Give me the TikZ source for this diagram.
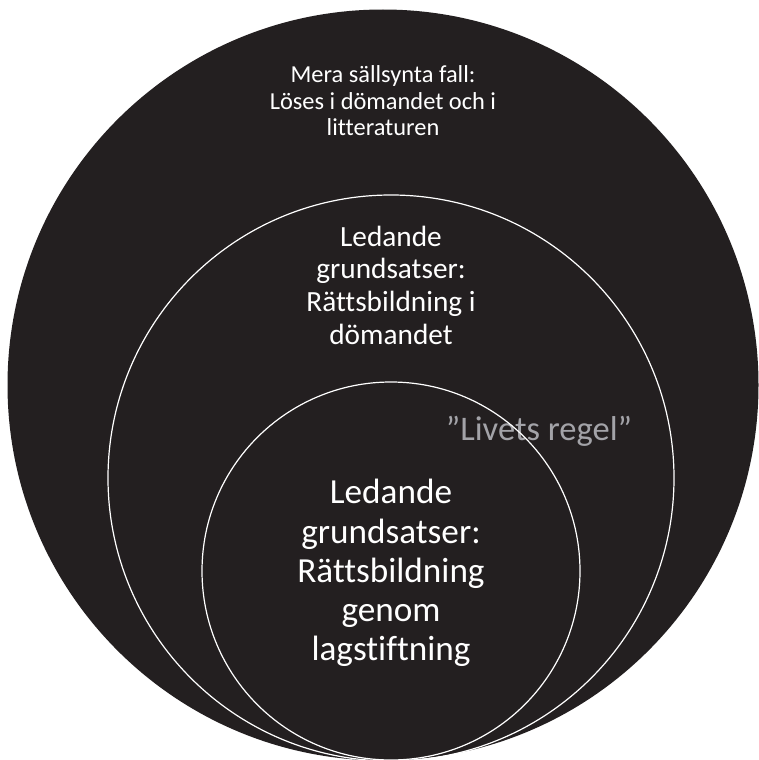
\documentclass[tikz,border=0pt]{standalone}
\usepackage{fontspec}
\setmainfont{Carlito}[Ligatures=NoCommon]
\definecolor{disc}{HTML}{231F20}
\definecolor{faint}{HTML}{A3A3A8}
\tikzset{
    ring/.style={draw=white, line width=1.2pt},
    lbl/.style={text=white, align=center, inner sep=0pt},
}
\begin{document}
\begin{tikzpicture}[x=1pt,y=-1pt]
    \useasboundingbox (0,0) rectangle (758,760);

    % circles
    \fill[disc] (383,385) circle (375.5);
    \draw[ring] (391,478) circle (283);

    % texts
    \node[lbl, font=\fontsize{24.4}{26.5}\selectfont] (rare) at (383,101)
        {Mera sällsynta fall:\\Löses i dömandet och i\\litteraturen};
    \node[lbl, font=\fontsize{29.3}{32.7}\selectfont] (court) at (391,285)
        {Ledande\\grundsatser:\\Rättsbildning i\\dömandet};
    \node[lbl, font=\fontsize{35.2}{39.2}\selectfont] (law) at (391,573)
        {Ledande\\grundsatser:\\Rättsbildning\\genom\\lagstiftning};
    \node[lbl, text=faint, font=\fontsize{34.5}{36}\selectfont] (life) at (539,431)
        {”Livets regel”};

    % inner circle over the grey label
    \draw[ring] (391,571) circle (189);

\end{tikzpicture}
\end{document}
